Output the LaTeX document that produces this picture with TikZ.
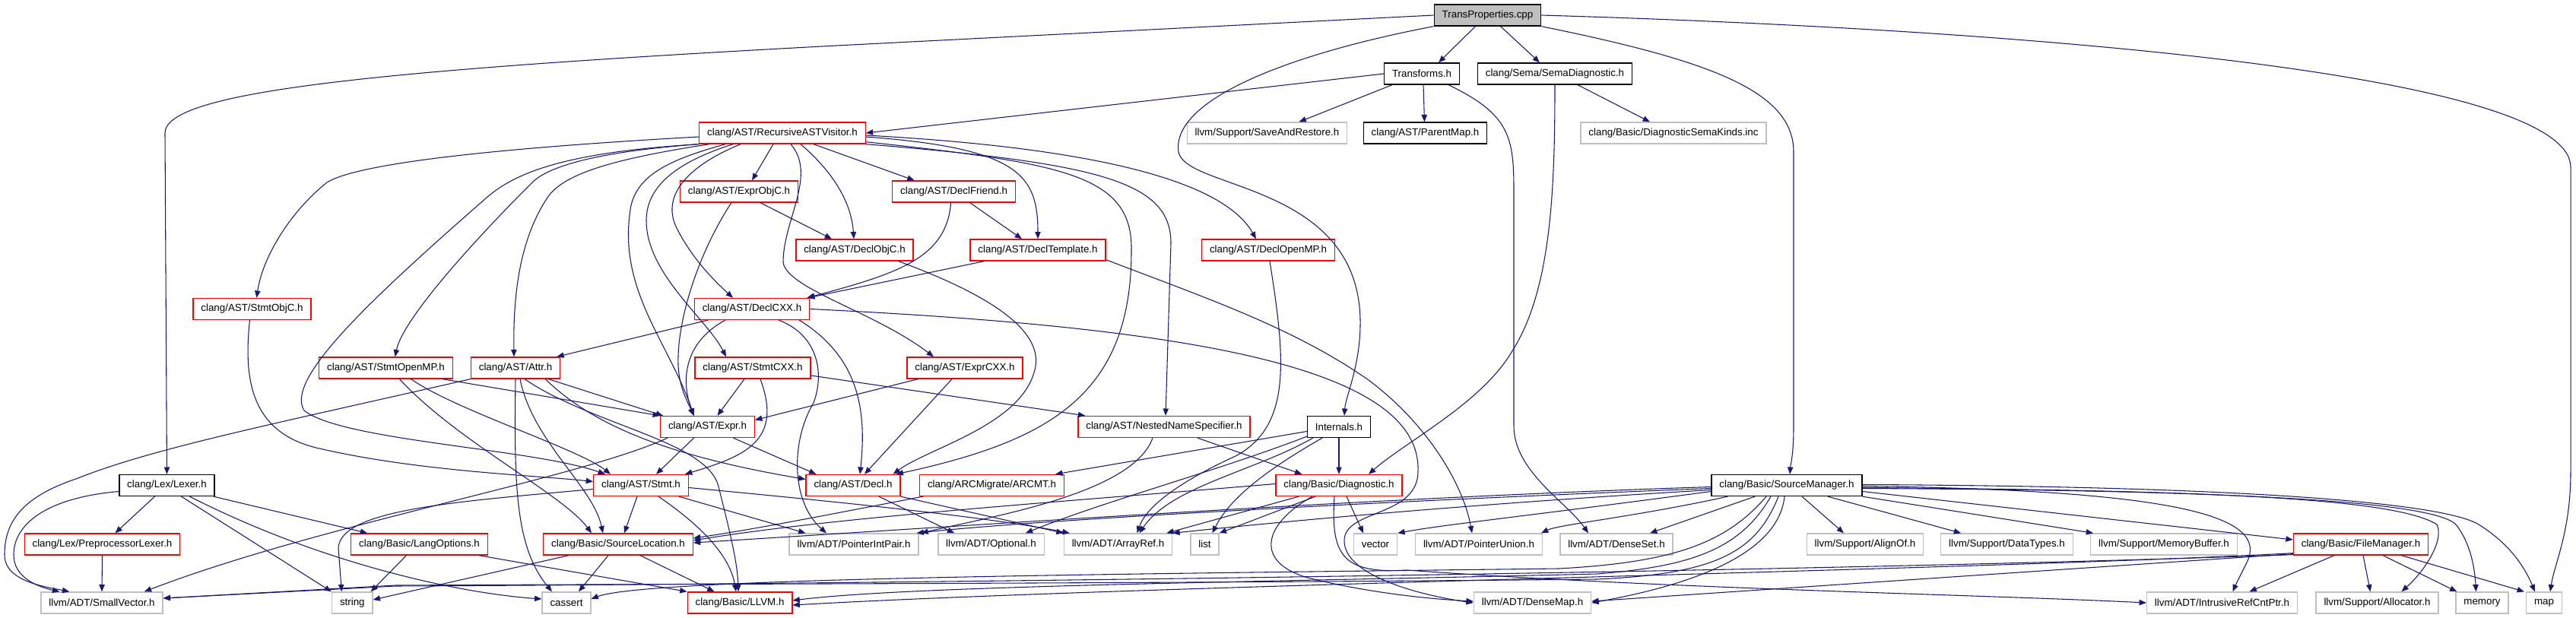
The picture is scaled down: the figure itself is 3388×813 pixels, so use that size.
\documentclass[tikz,border=0pt]{standalone}
\usepackage{fontspec}
\setmainfont{Liberation Sans}
\usetikzlibrary{arrows.meta,calc}
\definecolor{edgeblue}{HTML}{191970}
\definecolor{boxgray}{HTML}{BFBFBF}
\definecolor{boxred}{HTML}{FF0000}
\begin{document}
\begin{tikzpicture}[x=0.75pt,y=-0.75pt,
  nbox/.style={draw, rectangle, line width=1pt, minimum height=21pt, inner xsep=7.8pt, inner ysep=0pt, font=\fontsize{10}{12}\selectfont, fill=white},
  redb/.style={nbox, draw=boxred},
  grayb/.style={nbox, draw=boxgray},
  blackb/.style={nbox, draw=black},
  tpbox/.style={nbox, draw=black, fill=boxgray},
  edg/.style={draw=edgeblue, line width=0.8pt, -{Triangle[length=7pt,width=5.5pt]}}]
\useasboundingbox (0,0) rectangle (3388,813);
% nodes
\node[tpbox] (TP) at (1956.5,20) {TransProperties.cpp};
\node[blackb] (Transforms) at (1870,97) {Transforms.h};
\node[blackb] (SemaDiag) at (2045,97) {clang/Sema/SemaDiagnostic.h};
\node[redb] (RAV) at (1029,175) {clang/AST/RecursiveASTVisitor.h};
\node[grayb] (SaveRestore) at (1666.5,175) {llvm/Support/SaveAndRestore.h};
\node[blackb] (ParentMap) at (1874.5,175) {clang/AST/ParentMap.h};
\node[grayb] (SemaKinds) at (2201,175) {clang/Basic/DiagnosticSemaKinds.inc};
\node[redb] (ExprObjC) at (972,252) {clang/AST/ExprObjC.h};
\node[redb] (DeclFriend) at (1254.6,252) {clang/AST/DeclFriend.h};
\node[redb] (DeclObjC) at (1124,329) {clang/AST/DeclObjC.h};
\node[redb] (DeclTemplate) at (1365,329) {clang/AST/DeclTemplate.h};
\node[redb] (DeclOpenMP) at (1668,329) {clang/AST/DeclOpenMP.h};
\node[redb] (StmtObjC) at (331.5,406.5) {clang/AST/StmtObjC.h};
\node[redb] (DeclCXX) at (989,406.5) {clang/AST/DeclCXX.h};
\node[redb] (StmtOpenMP) at (507.5,484) {clang/AST/StmtOpenMP.h};
\node[redb] (Attr) at (678,484) {clang/AST/Attr.h};
\node[redb] (StmtCXX) at (990,484) {clang/AST/StmtCXX.h};
\node[redb] (ExprCXX) at (1269,484) {clang/AST/ExprCXX.h};
\node[redb] (Expr) at (930.5,561.5) {clang/AST/Expr.h};
\node[redb] (NNS) at (1531,561.5) {clang/AST/NestedNameSpecifier.h};
\node[blackb] (Internals) at (1761,561.5) {Internals.h};
\node[blackb] (Lexer) at (219.5,638.5) {clang/Lex/Lexer.h};
\node[redb] (Stmt) at (843,638.5) {clang/AST/Stmt.h};
\node[redb] (Decl) at (1122,638.5) {clang/AST/Decl.h};
\node[redb] (ARCMT) at (1304.5,638.5) {clang/ARCMigrate/ARCMT.h};
\node[redb] (Diagnostic) at (1761,638.5) {clang/Basic/Diagnostic.h};
\node[blackb] (SourceManager) at (2350,638.5) {clang/Basic/SourceManager.h};
\node[redb] (PPLexer) at (134.5,716) {clang/Lex/PreprocessorLexer.h};
\node[redb] (LangOptions) at (551.5,716) {clang/Basic/LangOptions.h};
\node[redb] (SourceLocation) at (813,716) {clang/Basic/SourceLocation.h};
\node[grayb] (PointerIntPair) at (1123,716) {llvm/ADT/PointerIntPair.h};
\node[grayb] (Optional) at (1303.5,716) {llvm/ADT/Optional.h};
\node[grayb] (ArrayRef) at (1470.5,716) {llvm/ADT/ArrayRef.h};
\node[grayb] (list) at (1584.5,716) {list};
\node[grayb] (vector) at (1809,716) {vector};
\node[grayb] (PointerUnion) at (1945,716) {llvm/ADT/PointerUnion.h};
\node[grayb] (DenseSet) at (2126,716) {llvm/ADT/DenseSet.h};
\node[grayb] (AlignOf) at (2453,716) {llvm/Support/AlignOf.h};
\node[grayb] (DataTypes) at (2639.5,716) {llvm/Support/DataTypes.h};
\node[grayb] (MemoryBuffer) at (2846,716) {llvm/Support/MemoryBuffer.h};
\node[redb] (FileManager) at (3105,716) {clang/Basic/FileManager.h};
\node[grayb] (SmallVector) at (134,793) {llvm/ADT/SmallVector.h};
\node[grayb] (string) at (463.3,793) {string};
\node[grayb] (cassert) at (745,793) {cassert};
\node[redb] (LLVM) at (973,793) {clang/Basic/LLVM.h};
\node[grayb] (DenseMap) at (2015.5,793) {llvm/ADT/DenseMap.h};
\node[grayb] (IRCP) at (2922.5,793) {llvm/ADT/IntrusiveRefCntPtr.h};
\node[grayb] (Allocator) at (3126.5,793) {llvm/Support/Allocator.h};
\node[grayb] (memory) at (3264.5,793) {memory};
\node[grayb] (map) at (3346,793) {map};
% TransProperties.cpp
\draw[edg] (TP.west) -- (1100,60) .. controls (500,92) and (217,120) .. (217,175) -- (Lexer.north);
\draw[edg] ($(TP.south)+(-16,0)$) -- ($(Transforms.north)+(22,0)$);
\draw[edg] ($(TP.south)+(17,0)$) -- ($(SemaDiag.north)+(-20,0)$);
\draw[edg] (TP.south west) .. controls (1700,70) and (1540,130) .. (1550,200) .. controls (1560,250) and (1785,240) .. (1789,420) .. controls (1790,480) and (1770,520) .. ($(Internals.north)+(7,0)$);
\draw[edg] (TP.south east) .. controls (2250,80) and (2359,120) .. (2359,200) -- (2359,560) .. controls (2359,600) and (2355,610) .. ($(SourceManager.north)+(4,0)$);
\draw[edg] (TP.east) .. controls (2700,40) and (3381,100) .. (3381,220) -- (3381,620) .. controls (3381,700) and (3360,740) .. ($(map.north)+(8,0)$);
% Transforms.h
\draw[edg] (Transforms.west) -- (RAV.east);
\draw[edg] ($(Transforms.south)+(-39,0)$) -- ($(SaveRestore.north)+(42,0)$);
\draw[edg] ($(Transforms.south)+(2,0)$) -- ($(ParentMap.north)+(-1,0)$);
\draw[edg] ($(Transforms.south)+(35,0)$) .. controls (1985,150) and (1991,180) .. (1991,250) -- (1991,560) .. controls (1991,620) and (2060,660) .. ($(DenseSet.north)+(-37,0)$);
% SemaDiagnostic.h
\draw[edg] ($(SemaDiag.south)+(30,0)$) -- ($(SemaKinds.north)+(-31,0)$);
\draw[edg] (SemaDiag.south) .. controls (2045,250) and (2040,380) .. (1990,460) .. controls (1950,530) and (1850,580) .. ($(Diagnostic.north)+(39,0)$);
% RecursiveASTVisitor.h
\draw[edg] ($(RAV.west)+(0,5)$) .. controls (650,195) and (470,215) .. (430,240) .. controls (380,280) and (345,340) .. ($(StmtObjC.north)+(6,0)$);
\draw[edg] (RAV.south west) .. controls (750,200) and (680,225) .. (640,260) .. controls (480,400) and (375,500) .. (400,540) .. controls (450,580) and (700,590) .. ($(Stmt.north)+(-47,0)$);
\draw[edg] (RAV.south west) .. controls (780,200) and (720,220) .. (700,240) .. controls (620,320) and (530,420) .. ($(StmtOpenMP.north)+(12,0)$);
\draw[edg] ($(RAV.south west)+(14,0)$) .. controls (800,210) and (740,230) .. (720,260) .. controls (680,320) and (675,400) .. ($(Attr.north)+(-2,0)$);
\draw[edg] ($(RAV.south west)+(35,0)$) .. controls (880,210) and (840,230) .. (830,270) .. controls (810,380) and (880,450) .. ($(Expr.north)+(-18,0)$);
\draw[edg] ($(RAV.south west)+(45,0)$) .. controls (900,210) and (850,240) .. (850,290) .. controls (850,360) and (930,420) .. ($(StmtCXX.north)+(-35,0)$);
\draw[edg] ($(RAV.south west)+(55,0)$) .. controls (900,220) and (870,260) .. (890,300) .. controls (910,340) and (940,370) .. ($(DeclCXX.north)+(-25,0)$);
\draw[edg] ($(RAV.south)+(-12,0)$) -- ($(ExprObjC.north)+(17,0)$);
\draw[edg] ($(RAV.south)+(11,0)$) .. controls (1075,230) and (1030,290) .. (1030,345) .. controls (1035,380) and (1150,410) .. ($(ExprCXX.north)+(-41,0)$);
\draw[edg] ($(RAV.south)+(24,0)$) .. controls (1100,230) and (1120,270) .. ($(DeclObjC.north)+(-1,0)$);
\draw[edg] ($(RAV.south)+(41,0)$) -- ($(DeclFriend.north)+(-52,0)$);
\draw[edg] ($(RAV.east)+(0,5)$) .. controls (1340,195) and (1365,230) .. (DeclTemplate.north);
\draw[edg] ($(RAV.south east)+(0,-3)$) .. controls (1400,215) and (1490,230) .. (1488,330) .. controls (1488,520) and (1380,580) .. ($(Decl.north east)+(-6,0)$);
\draw[edg] (RAV.south east) .. controls (1450,215) and (1540,240) .. (1540,320) -- ($(NNS.north)+(2,0)$);
\draw[edg] ($(RAV.east)+(0,3)$) .. controls (1450,195) and (1610,240) .. ($(DeclOpenMP.north)+(-16,0)$);
% ExprObjC.h
\draw[edg] ($(ExprObjC.south)+(28,0)$) -- ($(DeclObjC.north)+(-30,0)$);
\draw[edg] ($(ExprObjC.south)+(-10,0)$) .. controls (920,330) and (890,420) .. (892,480) .. controls (893,510) and (905,530) .. ($(Expr.north)+(-18,0)$);
% DeclFriend.h
\draw[edg] ($(DeclFriend.south)+(21,0)$) -- ($(DeclTemplate.north)+(-21,0)$);
\draw[edg] ($(DeclFriend.south)+(-4,0)$) .. controls (1245,340) and (1180,360) .. ($(DeclCXX.north east)+(-4,0)$);
% DeclTemplate.h
\draw[edg] ($(DeclTemplate.south west)+(19,0)$) -- ($(DeclCXX.north east)+(-3,0)$);
\draw[edg] ($(DeclTemplate.south east)+(0,-2)$) .. controls (1580,390) and (1700,430) .. (1800,500) .. controls (1880,560) and (1925,640) .. ($(PointerUnion.north)+(-9,0)$);
% DeclObjC.h
\draw[edg] ($(DeclObjC.south east)+(-20,0)$) .. controls (1280,380) and (1380,430) .. (1360,490) .. controls (1340,560) and (1220,590) .. ($(Decl.north east)+(-10,0)$);
% DeclOpenMP.h
\draw[edg] ($(DeclOpenMP.south)+(2,0)$) .. controls (1690,470) and (1700,560) .. (1625,600) .. controls (1570,625) and (1510,660) .. ($(ArrayRef.north)+(25,0)$);
% StmtObjC.h
\draw[edg] ($(StmtObjC.south)+(-3,0)$) .. controls (320,500) and (330,570) .. (420,590) .. controls (550,620) and (700,625) .. ($(Stmt.west)+(0,-5)$);
% DeclCXX.h
\draw[edg] ($(DeclCXX.south)+(-58,0)$) -- ($(Attr.north east)+(-5,0)$);
\draw[edg] ($(DeclCXX.south)+(-35,0)$) .. controls (900,450) and (895,500) .. ($(Expr.north)+(-18,0)$);
\draw[edg] ($(DeclCXX.south east)+(-14,0)$) .. controls (1130,470) and (1140,540) .. ($(Decl.north)+(9,0)$);
\draw[edg] ($(DeclCXX.south)+(35,0)$) .. controls (1075,440) and (1085,490) .. (1070,530) .. controls (1040,580) and (1040,660) .. ($(PointerIntPair.north)+(-36,0)$);
\draw[edg] (DeclCXX.east) .. controls (1550,430) and (1870,480) .. (1865,620) .. controls (1865,680) and (1770,670) .. (1768,710) .. controls (1766,760) and (1880,785) .. (DenseMap.west);
% StmtOpenMP.h
\draw[edg] ($(StmtOpenMP.south east)+(-14,0)$) -- (Expr.north west);
\draw[edg] ($(StmtOpenMP.south)+(33,0)$) .. controls (600,540) and (760,590) .. ($(Stmt.north)+(-40,0)$);
\draw[edg] ($(StmtOpenMP.south)+(18,0)$) .. controls (600,580) and (740,650) .. ($(SourceLocation.north)+(-35,0)$);
% Attr.h
\draw[edg] (Attr.south west) .. controls (350,560) and (200,590) .. (100,630) .. controls (25,655) and (6,690) .. (6,730) .. controls (6,765) and (60,772) .. ($(SmallVector.north west)+(38,0)$);
\draw[edg] (Attr.south) .. controls (676,640) and (678,720) .. ($(cassert.north)+(-19,0)$);
\draw[edg] ($(Attr.south)+(6,0)$) .. controls (700,580) and (780,640) .. ($(SourceLocation.north)+(-20,0)$);
\draw[edg] ($(Attr.south)+(12,0)$) .. controls (780,560) and (930,580) .. (945,640) .. controls (960,700) and (970,740) .. ($(LLVM.north)+(-2,0)$);
\draw[edg] ($(Attr.south east)+(-20,0)$) .. controls (780,560) and (880,600) .. ($(Decl.west)+(0,-8)$);
\draw[edg] ($(Attr.south east)+(-16,0)$) -- ($(Expr.north west)+(4,0)$);
% StmtCXX.h
\draw[edg] ($(StmtCXX.south)+(-11,0)$) -- ($(Expr.north)+(13,0)$);
\draw[edg] ($(StmtCXX.south)+(10,0)$) .. controls (1030,580) and (980,600) .. ($(Stmt.north east)+(-5,0)$);
\draw[edg] ($(StmtCXX.east)+(0,10)$) -- ($(NNS.north west)+(10,0)$);
% ExprCXX.h
\draw[edg] ($(ExprCXX.south west)+(15,0)$) -- ($(Expr.east)+(0,-9)$);
\draw[edg] ($(ExprCXX.south)+(-17,0)$) -- ($(Decl.north)+(15,0)$);
% Expr.h
\draw[edg] ($(Expr.south)+(-18,0)$) -- ($(Stmt.north)+(20,0)$);
\draw[edg] ($(Expr.south)+(34,0)$) -- ($(Decl.north west)+(14,0)$);
\draw[edg] ($(Expr.south west)+(10,0)$) .. controls (760,630) and (420,690) .. ($(SmallVector.north east)+(-25,0)$);
% Stmt.h
\draw[edg] ($(Stmt.south)+(-5,0)$) -- ($(SourceLocation.north)+(8,0)$);
\draw[edg] ($(Stmt.south)+(23,0)$) .. controls (920,690) and (960,730) .. ($(LLVM.north)+(-5,0)$);
\draw[edg] ($(Stmt.south east)+(-13,0)$) -- ($(PointerIntPair.north west)+(22,0)$);
\draw[edg] ($(Stmt.east)+(0,3)$) .. controls (1100,660) and (1300,680) .. ($(ArrayRef.north west)+(8,0)$);
\draw[edg] ($(Stmt.west)+(0,5)$) .. controls (600,660) and (450,670) .. (445,720) -- ($(string.north)+(-14,0)$);
% Decl.h
\draw[edg] ($(Decl.south)+(34,0)$) -- ($(Optional.north west)+(22,0)$);
\draw[edg] (Decl.south east) -- (ArrayRef.north west);
% NestedNameSpecifier.h
\draw[edg] ($(NNS.south)+(-15,0)$) .. controls (1490,650) and (1300,680) .. ($(PointerIntPair.north east)+(3,0)$);
\draw[edg] ($(NNS.south)+(44,0)$) -- ($(Diagnostic.north west)+(35,0)$);
% ARCMT.h
\draw[edg] ($(ARCMT.south west)+(5,0)$) .. controls (1100,675) and (1000,695) .. ($(SourceLocation.east)+(0,-8)$);
% Internals.h
\draw[edg] ($(Internals.west)+(0,6)$) -- ($(ARCMT.north east)+(-12,0)$);
\draw[edg] (Internals.south) -- (Diagnostic.north);
\draw[edg] ($(Internals.south west)+(8,0)$) .. controls (1650,620) and (1540,640) .. ($(ArrayRef.north)+(28,0)$);
\draw[edg] ($(Internals.south west)+(0,-2)$) .. controls (1600,620) and (1450,660) .. ($(Optional.north east)+(-25,0)$);
\draw[edg] ($(Internals.south)+(-22,0)$) .. controls (1680,610) and (1620,650) .. ($(list.north)+(10,0)$);
% Diagnostic.h
\draw[edg] ($(Diagnostic.west)+(0,-2)$) .. controls (1400,660) and (1100,680) .. ($(SourceLocation.east)+(0,-5)$);
\draw[edg] ($(Diagnostic.south)+(-53,0)$) -- ($(ArrayRef.north east)+(-8,0)$);
\draw[edg] ($(Diagnostic.south)+(-31,0)$) -- (list.north east);
\draw[edg] ($(Diagnostic.south)+(10,0)$) -- ($(vector.north)+(-16,0)$);
\draw[edg] ($(Diagnostic.south)+(-35,0)$) .. controls (1660,690) and (1650,740) .. (1720,760) .. controls (1800,780) and (1880,788) .. ($(DenseMap.west)+(0,-2)$);
\draw[edg] ($(Diagnostic.south)+(-6,0)$) .. controls (1750,730) and (1765,755) .. (1850,750) .. controls (2200,775) and (2600,782) .. (IRCP.west);
% SourceManager.h
\draw[edg] ($(SourceManager.west)+(0,2)$) .. controls (1800,655) and (1300,690) .. ($(SourceLocation.east)+(0,-2)$);
\draw[edg] ($(SourceManager.west)+(0,4)$) .. controls (1800,660) and (1350,685) .. ($(PointerIntPair.north east)+(-3,0)$);
\draw[edg] ($(SourceManager.west)+(0,6)$) .. controls (1900,665) and (1650,690) .. (ArrayRef.north east);
\draw[edg] ($(SourceManager.west)+(0,8)$) .. controls (2000,680) and (1900,690) .. (vector.north east);
\draw[edg] ($(SourceManager.south west)+(22,0)$) .. controls (2150,680) and (2050,690) .. ($(PointerUnion.north east)+(-2,0)$);
\draw[edg] ($(SourceManager.south)+(-42,0)$) -- ($(DenseSet.north)+(44,0)$);
\draw[edg] ($(SourceManager.south)+(-27,0)$) .. controls (2270,715) and (2200,740) .. (2050,748) .. controls (1500,755) and (850,760) .. ($(cassert.east)+(0,-5)$);
\draw[edg] ($(SourceManager.south)+(-21,0)$) .. controls (2290,720) and (2230,745) .. (2100,755) .. controls (1700,765) and (1200,770) .. ($(LLVM.east)+(0,-3)$);
\draw[edg] ($(SourceManager.south)+(-11,0)$) .. controls (2310,725) and (2260,755) .. (2100,762) .. controls (1500,768) and (900,768) .. (520,770) -- ($(SmallVector.east)+(0,-6)$);
\draw[edg] ($(SourceManager.south)+(-3,0)$) .. controls (2340,720) and (2250,765) .. (DenseMap.east);
\draw[edg] ($(SourceManager.south)+(20,0)$) -- ($(AlignOf.north)+(-28,0)$);
\draw[edg] ($(SourceManager.south)+(54,0)$) -- ($(DataTypes.north west)+(27,0)$);
\draw[edg] (SourceManager.south east) -- ($(MemoryBuffer.north west)+(4,0)$);
\draw[edg] ($(SourceManager.east)+(0,8)$) -- ($(FileManager.west)+(0,-6)$);
\draw[edg] ($(SourceManager.east)+(0,1)$) .. controls (2870,645) and (2985,680) .. (2955,740) .. controls (2945,760) and (2940,770) .. ($(IRCP.north)+(14,0)$);
\draw[edg] ($(SourceManager.east)+(0,3)$) .. controls (2900,645) and (3150,655) .. (3205,690) .. controls (3215,710) and (3190,750) .. ($(Allocator.north)+(32,0)$);
\draw[edg] ($(SourceManager.east)+(0,4)$) .. controls (2950,645) and (3200,660) .. (3230,690) .. controls (3250,715) and (3255,750) .. ($(memory.north)+(-8,0)$);
\draw[edg] ($(SourceManager.east)+(0,-1)$) .. controls (3000,640) and (3220,665) .. (3260,690) .. controls (3300,715) and (3320,745) .. ($(map.north)+(-12,0)$);
% FileManager.h
\draw[edg] ($(FileManager.south)+(-35,0)$) -- ($(IRCP.north)+(36,0)$);
\draw[edg] ($(FileManager.south)+(3,0)$) -- ($(Allocator.north)+(-9,0)$);
\draw[edg] ($(FileManager.south)+(29,0)$) -- ($(memory.north west)+(2,0)$);
\draw[edg] ($(FileManager.south east)+(-36,0)$) -- ($(map.north west)+(-2,0)$);
\draw[edg] ($(FileManager.south west)+(0,-2)$) -- ($(DenseMap.east)+(0,-2)$);
\draw[edg] ($(FileManager.south west)+(0,-3)$) .. controls (2600,750) and (1500,770) .. ($(LLVM.east)+(0,3)$);
\draw[edg] ($(FileManager.south west)+(0,-1)$) .. controls (2400,752) and (1200,768) .. (520,771) -- ($(SmallVector.east)+(0,-6)$);
% SourceLocation.h
\draw[edg] ($(SourceLocation.south west)+(34,0)$) -- ($(string.east)+(0,-4)$);
\draw[edg] ($(SourceLocation.south)+(-13,0)$) -- ($(cassert.north)+(16,0)$);
\draw[edg] ($(SourceLocation.south)+(29,0)$) -- ($(LLVM.north west)+(36,0)$);
% LangOptions.h
\draw[edg] ($(LangOptions.south)+(-17,0)$) -- ($(string.north east)+(-3,0)$);
\draw[edg] ($(LangOptions.south east)+(-12,0)$) -- (LLVM.north west);
% Lexer.h
\draw[edg] ($(Lexer.west)+(0,8)$) .. controls (60,655) and (18,690) .. (18,730) .. controls (18,760) and (50,772) .. ($(SmallVector.north west)+(25,0)$);
\draw[edg] ($(Lexer.south)+(-16,0)$) -- ($(PPLexer.north)+(17,0)$);
\draw[edg] ($(Lexer.south)+(19,0)$) -- (string.north west);
\draw[edg] ($(Lexer.south)+(30,0)$) .. controls (420,740) and (600,780) .. ($(cassert.west)+(0,-5)$);
\draw[edg] ($(Lexer.south east)+(-2,0)$) -- ($(LangOptions.north west)+(22,0)$);
% PreprocessorLexer.h
\draw[edg] (PPLexer.south) -- (SmallVector.north);
\end{tikzpicture}
\end{document}
